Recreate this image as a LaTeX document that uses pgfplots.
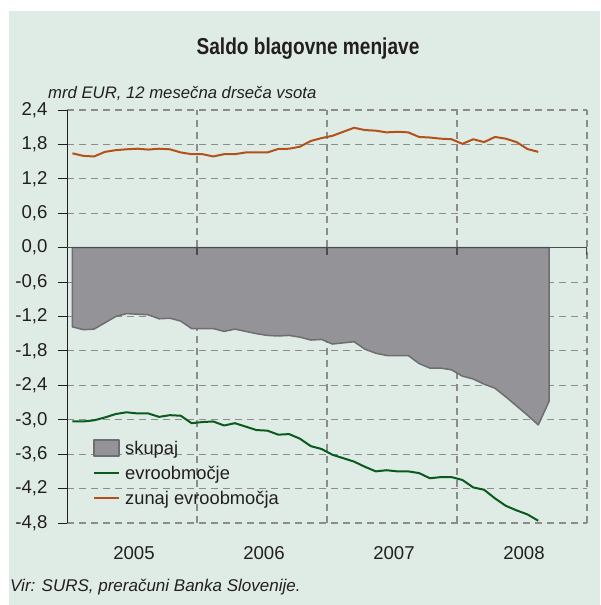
\documentclass[border=0pt]{standalone}
\usepackage{fontspec}
\setmainfont{Liberation Sans}
\usepackage{graphicx}
\usepackage{pgfplots}
\pgfplotsset{compat=1.18}
\usepackage{pgfplotstable}

\definecolor{panel}{HTML}{DFECE5}
\definecolor{areafill}{HTML}{939398}
\definecolor{areadraw}{HTML}{6D6D72}
\definecolor{evrogreen}{HTML}{0A5A1E}
\definecolor{zunajc}{HTML}{B4501A}
\definecolor{gridc}{HTML}{8C8C8C}
\definecolor{textc}{HTML}{231F20}

\pgfplotsset{
  arealeg/.style={legend image code/.code={\draw[##1] (0pt,-6pt) rectangle (25pt,10pt);}},
  lineleg/.style={legend image code/.code={\draw[##1] (0pt,2pt) -- (25pt,2pt);}},
}

\pgfplotstableread{
x y
0.5 -1.38
1.5 -1.43
2.5 -1.42
3.5 -1.31
4.5 -1.20
5.5 -1.15
6.5 -1.16
7.5 -1.17
8.5 -1.24
9.5 -1.23
10.5 -1.28
11.5 -1.41
12.5 -1.41
13.5 -1.41
14.5 -1.46
15.5 -1.42
16.5 -1.46
17.5 -1.50
18.5 -1.53
19.5 -1.54
20.5 -1.53
21.5 -1.56
22.5 -1.61
23.5 -1.60
24.5 -1.68
25.5 -1.66
26.5 -1.64
27.5 -1.77
28.5 -1.84
29.5 -1.88
30.5 -1.88
31.5 -1.88
32.5 -2.02
33.5 -2.10
34.5 -2.10
35.5 -2.13
36.5 -2.24
37.5 -2.29
38.5 -2.38
39.5 -2.45
40.5 -2.60
41.5 -2.76
42.5 -2.92
43.5 -3.09
44.5 -2.68
}\skupaj

\pgfplotstableread{
x y
0.5 -3.03
1.5 -3.03
2.5 -3.01
3.5 -2.96
4.5 -2.90
5.5 -2.87
6.5 -2.89
7.5 -2.89
8.5 -2.95
9.5 -2.92
10.5 -2.93
11.5 -3.06
12.5 -3.04
13.5 -3.03
14.5 -3.10
15.5 -3.06
16.5 -3.12
17.5 -3.18
18.5 -3.19
19.5 -3.26
20.5 -3.25
21.5 -3.33
22.5 -3.46
23.5 -3.51
24.5 -3.61
25.5 -3.67
26.5 -3.73
27.5 -3.82
28.5 -3.90
29.5 -3.88
30.5 -3.90
31.5 -3.90
32.5 -3.93
33.5 -4.02
34.5 -4.00
35.5 -4.00
36.5 -4.05
37.5 -4.18
38.5 -4.22
39.5 -4.37
40.5 -4.50
41.5 -4.58
42.5 -4.65
43.5 -4.76
}\evro

\pgfplotstableread{
x y
0.5 1.645
1.5 1.60
2.5 1.59
3.5 1.67
4.5 1.70
5.5 1.715
6.5 1.725
7.5 1.71
8.5 1.725
9.5 1.715
10.5 1.66
11.5 1.63
12.5 1.63
13.5 1.59
14.5 1.63
15.5 1.63
16.5 1.66
17.5 1.66
18.5 1.66
19.5 1.72
20.5 1.725
21.5 1.76
22.5 1.86
23.5 1.91
24.5 1.95
25.5 2.02
26.5 2.09
27.5 2.05
28.5 2.04
29.5 2.01
30.5 2.02
31.5 2.01
32.5 1.93
33.5 1.92
34.5 1.90
35.5 1.89
36.5 1.81
37.5 1.89
38.5 1.84
39.5 1.93
40.5 1.90
41.5 1.84
42.5 1.72
43.5 1.67
}\zunaj

\begin{document}
\begin{tikzpicture}
\useasboundingbox (0pt,0pt) rectangle (600pt,605pt);
\fill[white] (0pt,0pt) rectangle (600pt,605pt);
\fill[panel] (9pt,0pt) rectangle (600pt,594pt);

\node[anchor=base, text=textc, font=\bfseries\fontsize{23}{25}\selectfont, inner sep=0pt] at (308pt,550.7pt) {\scalebox{0.83}[1]{Saldo blagovne menjave}};
\node[anchor=base west, text=textc, font=\itshape\fontsize{16.7}{19}\selectfont, inner sep=0pt] at (48pt,506.3pt) {mrd EUR, 12 mesečna drseča vsota};
\node[anchor=base west, text=textc, font=\itshape\fontsize{17}{19}\selectfont, inner sep=0pt] at (10pt,13pt) {Vir: SURS, preračuni Banka Slovenije.};

\begin{axis}[
  at={(67pt,82pt)}, anchor=south west,
  scale only axis, width=520pt, height=413pt,
  xmin=0, xmax=48, ymin=-4.8, ymax=2.4,
  axis y line*=left, axis x line*=bottom,
  axis line style={-},
  x axis line style={draw=none},
  y axis line style={draw=textc, line width=0.9pt},
  xtick={12,24,36,48}, xticklabels={},
  xmajorgrids, ymajorgrids,
  grid style={gridc, line width=1.1pt, dash pattern=on 7pt off 5pt},
  extra x ticks={6,18,30,42},
  extra x tick labels={2005,2006,2007,2008},
  extra x tick style={grid=none, major tick length=0pt},
  x tick style={draw=none},
  xticklabel style={anchor=base, yshift=-36pt, xshift=2pt},
  ytick={-4.8,-4.2,-3.6,-3.0,-2.4,-1.8,-1.2,-0.6,0,0.6,1.2,1.8,2.4},
  y tick style={draw=textc, line width=0.9pt},
  tick align=outside, major tick length=9pt,
  tick label style={font=\fontsize{18.6}{20}\selectfont, text=textc},
  yticklabel style={xshift=-7pt, /pgf/number format/.cd, fixed, fixed zerofill, precision=1, use comma, 1000 sep={}, assume math mode=true},
  legend style={at={(0.05,0.2036)}, anchor=north west, draw=none, fill=none, inner sep=0pt, row sep=8pt,
    font=\fontsize{18.3}{20}\selectfont, text=textc,
    nodes={inner sep=0pt, text height=13pt, text depth=4pt},
    /tikz/every odd column/.append style={column sep=5pt}},
  legend cell align=left,
]
\addplot[arealeg, fill=areafill, draw=areadraw, line width=1.5pt, line join=round]
  table[x=x,y=y] {\skupaj} \closedcycle;
\addplot[lineleg, evrogreen, line width=2pt, line join=round]
  table[x=x,y=y] {\evro};
\addplot[lineleg, zunajc, line width=2pt, line join=round]
  table[x=x,y=y] {\zunaj};
\legend{skupaj, evroobmočje, zunaj evroobmočja}
\draw[black!70, line width=1.2pt] (axis cs:0,0) -- (axis cs:48,0);
\draw[black!70, line width=1.2pt] (axis cs:12,0) -- ++(0pt,-7pt);
\draw[black!70, line width=1.2pt] (axis cs:24,0) -- ++(0pt,-7pt);
\draw[black!70, line width=1.2pt] (axis cs:36,0) -- ++(0pt,-7pt);
\draw[black!70, line width=1.2pt] (axis cs:48,0) -- ++(0pt,-7pt);
\end{axis}
\end{tikzpicture}
\end{document}
